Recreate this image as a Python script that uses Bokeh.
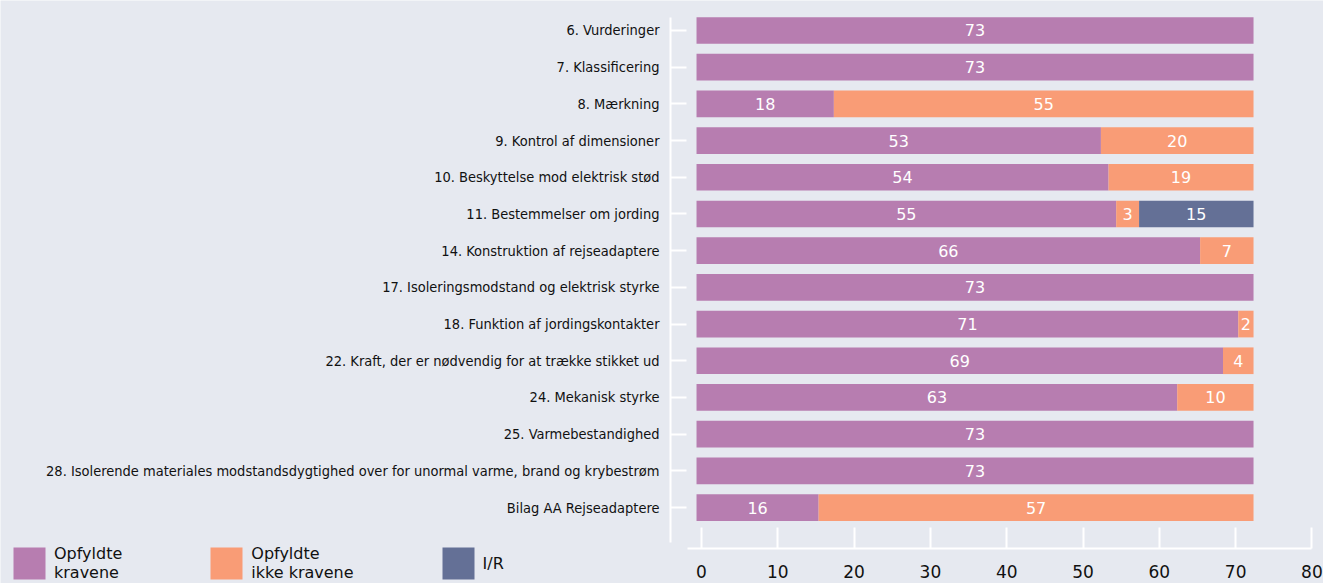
from bokeh.plotting import figure
from bokeh.models import (Range1d, LinearAxis, FixedTicker, ColumnDataSource,
                          Legend, LegendItem)
from bokeh.core.properties import value
from bokeh.embed import file_html
from bokeh.resources import INLINE

# ---------------- data ----------------
categories = [
    "6. Vurderinger",
    "7. Klassificering",
    "8. Mærkning",
    "9. Kontrol af dimensioner",
    "10. Beskyttelse mod elektrisk stød",
    "11. Bestemmelser om jording",
    "14. Konstruktion af rejseadaptere",
    "17. Isoleringsmodstand og elektrisk styrke",
    "18. Funktion af jordingskontakter",
    "22. Kraft, der er nødvendig for at trække stikket ud",
    "24. Mekanisk styrke",
    "25. Varmebestandighed",
    "28. Isolerende materiales modstandsdygtighed over for unormal varme, brand og krybestrøm",
    "Bilag AA Rejseadaptere",
]
opfyldte = [73, 73, 18, 53, 54, 55, 66, 73, 71, 69, 63, 73, 73, 16]
ikke_opfyldte = [0, 0, 55, 20, 19, 3, 7, 0, 2, 4, 10, 0, 0, 57]
ir = [0, 0, 0, 0, 0, 15, 0, 0, 0, 0, 0, 0, 0, 0]
series_names = ["Opfyldte\nkravene", "Opfyldte\nikke kravene", "I/R"]
x_ticks = [0, 10, 20, 30, 40, 50, 60, 70, 80]

# ---------------- style ----------------
BG = "#e6e9f0"
COLORS = ["#b77db0", "#f99c76", "#647096"]
LABEL_FONT = "DejaVu Sans Condensed, DejaVu Sans"
NUM_FONT = "DejaVu Sans"

n = len(categories)
ypos = list(range(n))
src = ColumnDataSource(dict(y=ypos, ok=opfyldte, nok=ikke_opfyldte, ir=ir))

# frame covers the whole canvas; axes are placed at fixed locations
p = figure(width=1323, height=583, output_backend="svg", toolbar_location=None,
           x_range=Range1d(-91.22, 82.17), y_range=Range1d(15.07, -0.817),
           x_axis_location=None, y_axis_location=None,
           min_border=0)
p.background_fill_color = BG
p.border_fill_color = BG
p.outline_line_color = None
p.xgrid.visible = False
p.ygrid.visible = False

renderers = p.hbar_stack(["ok", "nok", "ir"], y="y", height=0.727,
                         color=COLORS, line_color=None, source=src)

# value labels
lx, ly, lt = [], [], []
for i in range(n):
    left = 0
    for v in (opfyldte[i], ikke_opfyldte[i], ir[i]):
        if v > 0:
            lx.append(left + v / 2)
            ly.append(i)
            lt.append(str(v))
        left += v
p.text(x=lx, y=ly, text=lt, text_align="center", text_baseline="middle",
       text_color="white", text_font=value(NUM_FONT), text_font_size="16px")

# left (category) axis
ya = LinearAxis(ticker=FixedTicker(ticks=ypos), fixed_location=-3.408)
ya.major_label_overrides = {i: c for i, c in enumerate(categories)}
ya.bounds = (-0.354, 13.95)
ya.axis_line_color = "white"
ya.axis_line_width = 2
ya.major_tick_in = 16
ya.major_tick_out = 0
ya.major_tick_line_color = "white"
ya.major_tick_line_width = 2
ya.minor_tick_line_color = None
ya.major_label_standoff = 11
ya.major_label_text_font = LABEL_FONT
ya.major_label_text_font_size = "14.5px"
ya.major_label_text_color = "#111111"
p.add_layout(ya, "left")

# bottom axis (slightly offset scale as in the original)
p.extra_x_ranges = {"axis": Range1d(-91.875, 81.515)}
xa = LinearAxis(x_range_name="axis", ticker=FixedTicker(ticks=x_ticks),
                fixed_location=14.114)
xa.bounds = (-1.9, 80)
xa.axis_line_color = "white"
xa.axis_line_width = 2
xa.major_tick_in = 21
xa.major_tick_out = 0
xa.major_tick_line_color = "white"
xa.major_tick_line_width = 2
xa.minor_tick_line_color = None
xa.major_label_standoff = 17
xa.major_label_text_font = NUM_FONT
xa.major_label_text_font_size = "17px"
xa.major_label_text_color = "#111111"
p.add_layout(xa, "below")

legend = Legend(items=[LegendItem(label=series_names[k], renderers=[renderers[k]])
                       for k in range(3)],
                orientation="horizontal", location=(9, 0),
                glyph_width=40, glyph_height=40, label_standoff=5, spacing=84,
                padding=0, margin=0, background_fill_alpha=0,
                border_line_color=None,
                label_text_font=NUM_FONT, label_text_font_size="16px",
                label_text_color="#111111")
p.add_layout(legend, "center")

open("out.html", "w").write(file_html(p, INLINE))
